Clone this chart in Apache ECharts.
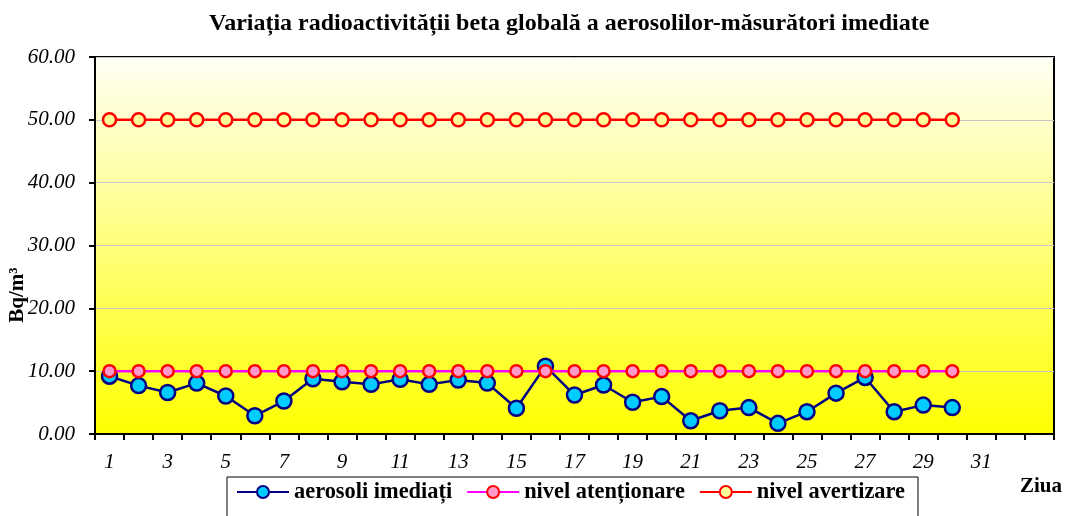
<!DOCTYPE html>
<html><head><meta charset="utf-8">
<script src="https://cdn.jsdelivr.net/npm/echarts@6/dist/echarts.min.js"></script>
<style>html,body{margin:0;padding:0;background:#fff}#c{width:1069px;height:516px}</style>
</head><body><div id="c"></div>
<script>
const days = ['1','2','3','4','5','6','7','8','9','10','11','12','13','14','15','16','17','18','19','20','21','22','23','24','25','26','27','28','29','30','31','32','33'];
const aerosoli = [9.2,7.7,6.6,8.1,6.05,2.9,5.25,8.8,8.3,7.9,8.7,7.9,8.6,8.1,4.1,10.8,6.2,7.8,5.05,5.95,2.1,3.7,4.2,1.7,3.55,6.5,9.0,3.55,4.6,4.2];
const atentionare = [10,10,10,10,10,10,10,10,10,10,10,10,10,10,10,10,10,10,10,10,10,10,10,10,10,10,10,10,10,10];
const avertizare = [50,50,50,50,50,50,50,50,50,50,50,50,50,50,50,50,50,50,50,50,50,50,50,50,50,50,50,50,50,50];
const hiddenLabels = ['33'];

const chart = echarts.init(document.getElementById('c'), null, {renderer:'canvas'});
const serif = '"Liberation Serif","Times New Roman",serif';
chart.setOption({
  animation:false,
  backgroundColor:'#fff',
  title:{text:'Variația radioactivității beta globală a aerosolilor-măsurători imediate',left:204,top:7,
    textStyle:{fontFamily:serif,fontWeight:'bold',fontSize:24,color:'#000'}},
  grid:{left:95,right:15,top:57,bottom:82,show:true,borderColor:'#000',borderWidth:2,
    backgroundColor:new echarts.graphic.LinearGradient(0,0,0,1,[{offset:0,color:'#FFFFF6'},{offset:1,color:'#FFFF00'}])},
  legend:{left:227,top:477,itemGap:14,padding:[4,13,30,9],borderColor:'#000',borderWidth:1,
    itemWidth:52,itemHeight:15,
    textStyle:{fontFamily:serif,fontWeight:'bold',fontSize:22.4,color:'#000'},
    data:['aerosoli imediați','nivel atenționare','nivel avertizare']},
  graphic:[
    {type:'text',left:1020,top:476,style:{text:'Ziua',font:'bold 21px '+serif,fill:'#000'}},
    {type:'text',x:18,y:295,rotation:Math.PI/2,style:{text:'Bq/m³',font:'bold 21px '+serif,fill:'#000',align:'center',verticalAlign:'middle'}}
  ],
  xAxis:{type:'category',data:days,boundaryGap:true,
    axisLine:{lineStyle:{color:'#000',width:2}},
    axisTick:{show:true,length:6,interval:0,lineStyle:{color:'#000',width:2}},
    axisLabel:{interval:1,margin:18,fontFamily:serif,fontStyle:'italic',fontSize:21,color:'#000',
      formatter:v=>hiddenLabels.includes(v)?'':v},
    splitLine:{show:false}},
  yAxis:{type:'value',min:0,max:60,interval:10,
    axisLine:{show:true,lineStyle:{color:'#000',width:2}},
    axisTick:{show:true,length:6,lineStyle:{color:'#000',width:2}},
    axisLabel:{margin:20,fontFamily:serif,fontStyle:'italic',fontSize:21,color:'#000',formatter:v=>v.toFixed(2)},
    splitLine:{show:true,lineStyle:{color:'#C8C8C8',width:1}}},
  series:[
    {name:'aerosoli imediați',type:'line',data:aerosoli,symbol:'circle',symbolSize:15,z:2,
      lineStyle:{color:'#000080',width:2.5},itemStyle:{color:'#00CCFF',borderColor:'#000080',borderWidth:2.5}},
    {name:'nivel atenționare',type:'line',data:atentionare,symbol:'circle',symbolSize:12,z:3,
      lineStyle:{color:'#FF00FF',width:2.5},itemStyle:{color:'#FF99CC',borderColor:'#FF0000',borderWidth:2.5}},
    {name:'nivel avertizare',type:'line',data:avertizare,symbol:'circle',symbolSize:13,z:4,
      lineStyle:{color:'#FF0000',width:2.5},itemStyle:{color:'#FFFF99',borderColor:'#FF0000',borderWidth:2.5}}
  ]
});
</script></body></html>
